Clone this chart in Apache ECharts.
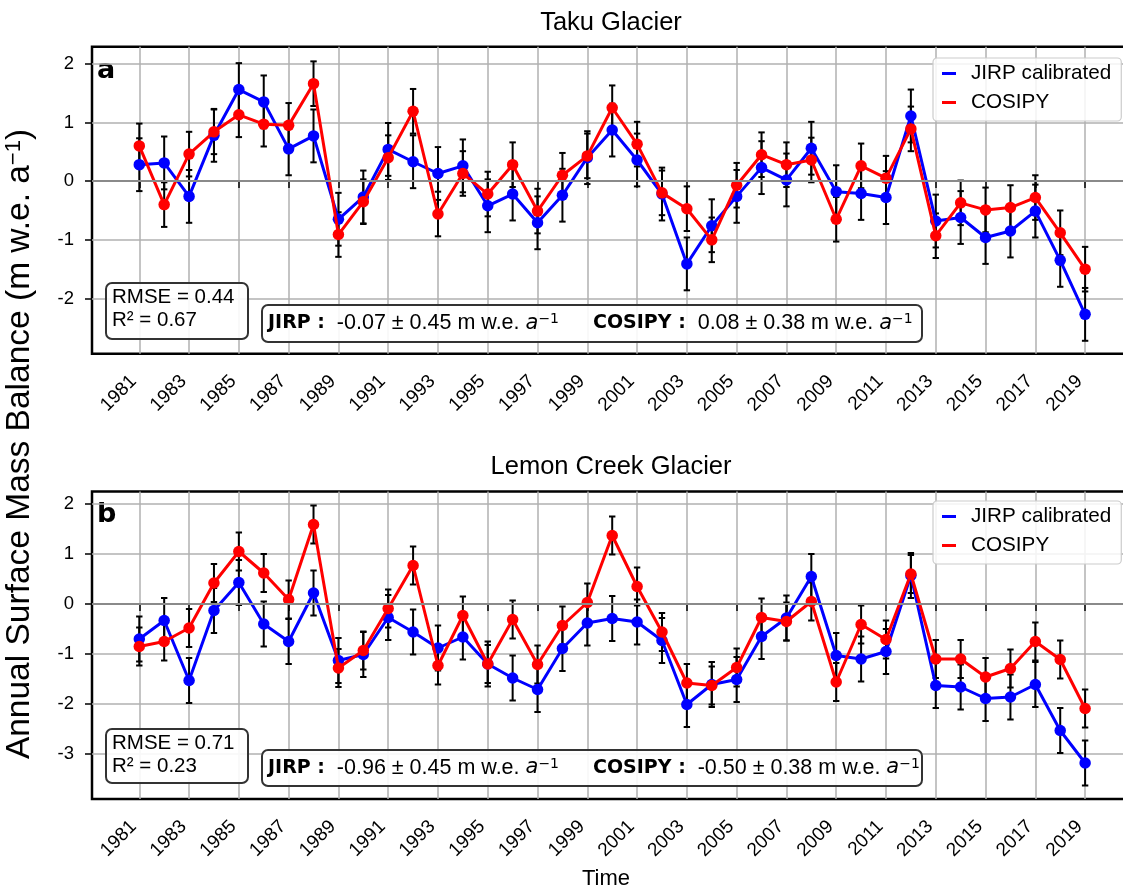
<!DOCTYPE html>
<html><head><meta charset="utf-8">
<script src="https://cdn.jsdelivr.net/npm/echarts@6/dist/echarts.min.js"></script>
<style>html,body{margin:0;padding:0;background:#fff}#c{width:1123px;height:892px}</style>
</head><body><div id="c"></div>
<script>
// ---------------- data ----------------
const years = [1981,1982,1983,1984,1985,1986,1987,1988,1989,1990,1991,1992,1993,1994,1995,1996,1997,1998,1999,2000,
               2001,2002,2003,2004,2005,2006,2007,2008,2009,2010,2011,2012,2013,2014,2015,2016,2017,2018,2019];
const takuJIRP   = [0.28,0.31,-0.26,0.78,1.56,1.35,0.55,0.77,-0.65,-0.27,0.54,0.33,0.13,0.26,-0.42,-0.22,-0.71,-0.24,0.40,0.87,
                    0.36,-0.22,-1.41,-0.76,-0.26,0.23,0.02,0.56,-0.18,-0.21,-0.28,1.11,-0.68,-0.62,-0.96,-0.85,-0.51,-1.35,-2.27];
const takuCOSIPY = [0.60,-0.40,0.46,0.84,1.13,0.97,0.95,1.66,-0.91,-0.35,0.40,1.19,-0.56,0.13,-0.22,0.28,-0.51,0.10,0.43,1.25,
                    0.63,-0.20,-0.47,-1.00,-0.07,0.45,0.28,0.36,-0.65,0.26,0.05,0.89,-0.93,-0.37,-0.49,-0.45,-0.28,-0.88,-1.50];
const lemonJIRP  = [-0.70,-0.33,-1.53,-0.13,0.43,-0.40,-0.75,0.22,-1.13,-1.01,-0.27,-0.56,-0.88,-0.66,-1.20,-1.48,-1.71,-0.89,-0.38,-0.29,
                    -0.36,-0.73,-2.01,-1.61,-1.51,-0.65,-0.28,0.55,-1.03,-1.10,-0.95,0.57,-1.63,-1.66,-1.89,-1.86,-1.61,-2.53,-3.18];
const lemonCOSIPY= [-0.85,-0.75,-0.48,0.42,1.05,0.62,0.09,1.59,-1.28,-0.93,-0.09,0.77,-1.23,-0.23,-1.20,-0.31,-1.21,-0.43,0.03,1.37,
                    0.35,-0.56,-1.58,-1.63,-1.27,-0.27,-0.35,0.05,-1.56,-0.41,-0.71,0.60,-1.10,-1.10,-1.46,-1.29,-0.75,-1.11,-2.09];
const JIRP_ERR = 0.45;
const COSIPY_ERR = 0.38;
const xTickYears = [1981,1983,1985,1987,1989,1991,1993,1995,1997,1999,2001,2003,2005,2007,2009,2011,2013,2015,2017,2019];
const yTicksA = [-2,-1,0,1,2];
const yTicksB = [-3,-2,-1,0,1,2];
const panelTitles = ['Taku Glacier','Lemon Creek Glacier'];
const panelLetters = ['a','b'];
const seriesNames = ['JIRP calibrated','COSIPY'];
const rmseVals = ['0.44','0.71'];
const r2Vals = ['0.67','0.23'];
const jirpMeans = ['-0.07','-0.96'];
const cosipyMeans = ['0.08','-0.50'];
const jirpStd = ['0.45','0.45'];
const cosipyStd = ['0.38','0.38'];

// ---------------- layout ----------------
const BLUE = '#0000ff', RED = '#ff0000';
const SANS = 'Liberation Sans, Arial, sans-serif';
const DJV = 'DejaVu Sans, sans-serif';
const grids = [
  {left: 92, top: 46.7, width: 1040.4, height: 307},
  {left: 92, top: 491.5, width: 1040.4, height: 307.5}
];
const yRanges = [[-2.94, 2.29], [-3.90, 2.25]];
const yTicks = [yTicksA, yTicksB];

function errRender(params, api) {
  const x = api.value(0), y = api.value(1), e = api.value(2);
  const t = api.coord([x, y + e]);
  const b = api.coord([x, y - e]);
  const cap = 3.2;
  const st = {stroke: '#000', lineWidth: 2};
  return {type: 'group', children: [
    {type: 'line', shape: {x1: t[0], y1: t[1], x2: b[0], y2: b[1]}, style: st},
    {type: 'line', shape: {x1: t[0] - cap, y1: t[1], x2: t[0] + cap, y2: t[1]}, style: st},
    {type: 'line', shape: {x1: b[0] - cap, y1: b[1], x2: b[0] + cap, y2: b[1]}, style: st}
  ]};
}

const gridOpt = [], xAxes = [], yAxes = [], series = [], legends = [], graphics = [];
const panelData = [[takuJIRP, takuCOSIPY], [lemonJIRP, lemonCOSIPY]];

for (let p = 0; p < 2; p++) {
  const g = grids[p];
  gridOpt.push({left: g.left, top: g.top, width: g.width, height: g.height, show: true,
    borderColor: '#000', borderWidth: 2.5, backgroundColor: 'transparent', outerBoundsMode: 'none', containLabel: false});
  xAxes.push({type: 'value', gridIndex: p, min: 1979.1, max: 2020.9,
    axisLine: {show: false},
    axisTick: {show: true, customValues: xTickYears, length: 7, lineStyle: {color: '#000', width: 1.5}},
    axisLabel: {customValues: xTickYears, rotate: 45, fontSize: 19, color: '#000', fontFamily: SANS, margin: 19,
      padding: [0, 8, 0, 0], formatter: v => String(Math.round(v))},
    splitLine: {show: true, lineStyle: {color: '#b0b0b0', width: 1.5}}
  });
  yAxes.push({type: 'value', gridIndex: p, min: yRanges[p][0], max: yRanges[p][1],
    axisLine: {show: false},
    axisTick: {show: true, customValues: yTicks[p], length: 7, lineStyle: {color: '#000', width: 1.5}},
    axisLabel: {customValues: yTicks[p], fontSize: 18.5, color: '#000', fontFamily: SANS, margin: 18,
      formatter: v => String(Math.round(v))},
    splitLine: {show: true, lineStyle: {color: '#b0b0b0', width: 1.5}}
  });
  // zero line
  series.push({type: 'line', xAxisIndex: p, yAxisIndex: p, data: [], z: 1, silent: true,
    markLine: {silent: true, symbol: 'none', label: {show: false}, animation: false,
      lineStyle: {color: '#8a8a8a', width: 2.2, type: 'solid'}, data: [{yAxis: 0}]}});
  const errs = [JIRP_ERR, COSIPY_ERR];
  const cols = [BLUE, RED];
  for (let s = 0; s < 2; s++) {
    const vals = panelData[p][s];
    series.push({type: 'custom', name: seriesNames[s] + ' err', xAxisIndex: p, yAxisIndex: p, z: 2,
      renderItem: errRender, silent: true,
      data: years.map((yr, i) => [yr, vals[i], errs[s]])});
  }
  for (let s = 0; s < 2; s++) {
    const vals = panelData[p][s];
    series.push({type: 'line', name: seriesNames[s], xAxisIndex: p, yAxisIndex: p, z: 3 + s,
      symbol: 'circle', symbolSize: 11.5, showSymbol: true,
      itemStyle: {color: cols[s]}, lineStyle: {color: cols[s], width: 3},
      data: years.map((yr, i) => [yr, vals[i]])});
  }
  legends.push({data: seriesNames.map(n => ({name: n, icon: 'rect'})), orient: 'vertical',
    left: 933, top: p === 0 ? 58 : 501, itemWidth: 14, itemHeight: 3, itemGap: 8,
    padding: [5, 10, 8, 9], backgroundColor: 'rgba(255,255,255,0.85)', borderColor: '#cccccc', borderWidth: 1.2,
    borderRadius: 4, textStyle: {fontSize: 20.7, fontFamily: SANS, color: '#000', padding: [0, 0, 0, 10]},
    selectedMode: false});

  // titles
  graphics.push({type: 'text', x: 611, y: p === 0 ? 22.5 : 467,
    style: {text: panelTitles[p], font: '25.5px ' + SANS, fill: '#000', textAlign: 'center', textVerticalAlign: 'middle'}});
  // letters
  graphics.push({type: 'text', x: 97, y: p === 0 ? 71 : 515,
    style: {text: panelLetters[p], font: 'bold 27px ' + DJV, fill: '#000', textAlign: 'left', textVerticalAlign: 'middle'}});
  // RMSE box
  const rb = p === 0 ? {x: 106, y: 283, h: 56} : {x: 106, y: 729, h: 54};
  graphics.push({type: 'rect', shape: {x: rb.x, y: rb.y, width: 142, height: rb.h, r: 6},
    style: {fill: 'rgba(255,255,255,0.9)', stroke: '#333', lineWidth: 2}, z: 100});
  graphics.push({type: 'text', x: rb.x + 6, y: rb.y + 3, z: 101,
    style: {text: 'RMSE = ' + rmseVals[p] + '\nR² = ' + r2Vals[p], font: '20.5px ' + SANS, lineHeight: 23, fill: '#000',
      textAlign: 'left', textVerticalAlign: 'top'}});
  // mean box
  const mb = p === 0 ? {y: 305, h: 37} : {y: 750, h: 36};
  graphics.push({type: 'rect', shape: {x: 262, y: mb.y, width: 660, height: mb.h, r: 6},
    style: {fill: 'rgba(255,255,255,0.9)', stroke: '#333', lineWidth: 2}, z: 100});
  const rich = {
    b: {font: 'bold 19px ' + DJV, fill: '#000'},
    n: {font: '21.5px ' + SANS, fill: '#000'},
    i: {font: 'italic 21px ' + DJV, fill: '#000'},
    s: {font: '14px ' + DJV, fill: '#000', verticalAlign: 'top'}
  };
  const cy = mb.y + mb.h / 2;
  graphics.push({type: 'text', x: 268, y: cy, z: 101,
    style: {text: '{b|JIRP :}{n|  ' + jirpMeans[p] + ' ± ' + jirpStd[p] + ' m w.e. }{i|a}{s|−1}', rich: rich,
      textAlign: 'left', textVerticalAlign: 'middle'}});
  graphics.push({type: 'text', x: 593, y: cy, z: 101,
    style: {text: '{b|COSIPY :}{n|  ' + cosipyMeans[p] + ' ± ' + cosipyStd[p] + ' m w.e. }{i|a}{s|−1}', rich: rich,
      textAlign: 'left', textVerticalAlign: 'middle'}});
}
// axis labels
graphics.push({type: 'text', x: 20, y: 444, rotation: Math.PI / 2,
  style: {text: '{n|Annual Surface Mass Balance (m w.e. a}{s|−1}{n|)}', textAlign: 'center', textVerticalAlign: 'middle',
    rich: {n: {font: '33.5px ' + SANS, fill: '#000'}, s: {font: '22px ' + SANS, fill: '#000', verticalAlign: 'top'}}}});
graphics.push({type: 'text', x: 606, y: 879,
  style: {text: 'Time', font: '22px ' + SANS, fill: '#000', textAlign: 'center', textVerticalAlign: 'middle'}});

const chart = echarts.init(document.getElementById('c'), null, {renderer: 'canvas'});
chart.setOption({
  animation: false,
  backgroundColor: '#fff',
  grid: gridOpt, xAxis: xAxes, yAxis: yAxes, series: series, legend: legends,
  graphic: {elements: graphics}
});
</script></body></html>
